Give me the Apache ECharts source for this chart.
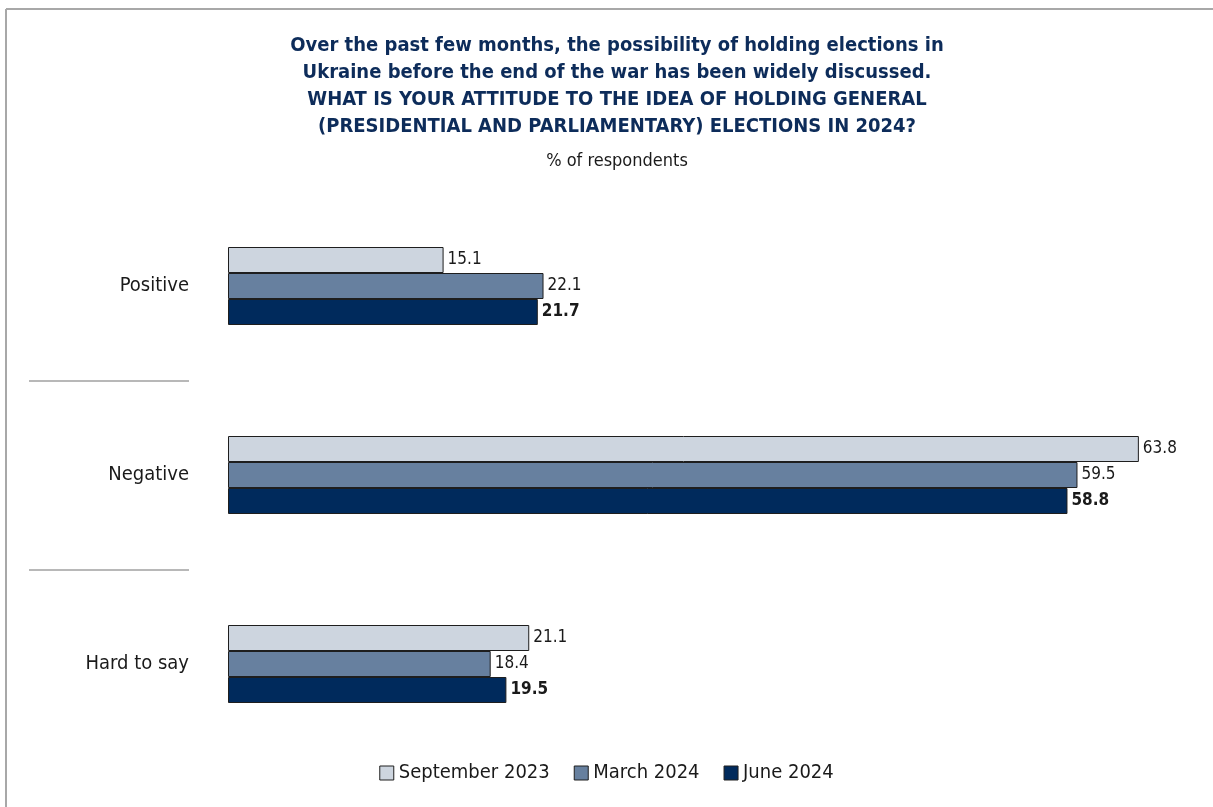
<!DOCTYPE html>
<html>
<head>
<meta charset="utf-8">
<script src="https://cdn.jsdelivr.net/npm/echarts@6/dist/echarts.min.js"></script>
<style>
  html, body { margin: 0; padding: 0; background: #fff; }
  #chart { width: 1213px; height: 807px; }
</style>
</head>
<body>
<div id="chart"></div>
<script>
const categories = ['Positive', 'Negative', 'Hard to say'];
const seriesNames = ['September 2023', 'March 2024', 'June 2024'];
const sep2023 = [15.1, 63.8, 21.1];
const mar2024 = [22.1, 59.5, 18.4];
const jun2024 = [21.7, 58.8, 19.5];

const colors = ['#cdd5df', '#67809f', '#002a5c'];
const FONT = '"Liberation Sans Narrow", "DejaVu Sans Condensed", "Roboto", sans-serif';

const chart = echarts.init(document.getElementById('chart'), null, { renderer: 'canvas' });

const makeSeries = (name, data, idx) => ({
    name,
    type: 'bar',
    data,
    barWidth: 26,
    barGap: '0%',
    itemStyle: { color: colors[idx], borderColor: '#1e1e1e', borderWidth: 1 },
    label: {
        show: true,
        position: 'right',
        distance: 4,
        fontFamily: FONT,
        fontSize: 17,
        color: '#1a1a1a',
        fontWeight: idx === 2 ? 'bold' : 'normal',
        formatter: p => p.value.toFixed(1)
    },
    emphasis: { disabled: true }
});

chart.setOption({
    backgroundColor: '#fff',
    animation: false,
    title: {
        text: 'Over the past few months, the possibility of holding elections in\nUkraine before the end of the war has been widely discussed.\nWHAT IS YOUR ATTITUDE TO THE IDEA OF HOLDING GENERAL\n(PRESIDENTIAL AND PARLIAMENTARY) ELECTIONS IN 2024?',
        subtext: '% of respondents',
        left: 612,
        top: 27,
        textAlign: 'center',
        itemGap: 12,
        textStyle: {
            fontFamily: FONT,
            fontSize: 20,
            fontWeight: 'bold',
            color: '#0d2c5a',
            lineHeight: 27
        },
        subtextStyle: {
            fontFamily: FONT,
            fontSize: 18,
            color: '#1a1a1a'
        }
    },
    legend: {
        data: seriesNames,
        bottom: 19,
        left: 'center',
        itemWidth: 14,
        itemHeight: 14,
        itemGap: 24,
        icon: 'rect',
        itemStyle: { borderColor: '#1e1e1e', borderWidth: 1 },
        textStyle: { fontFamily: FONT, fontSize: 20, color: '#1a1a1a' }
    },
    grid: {
        left: 228,
        right: 57,
        top: 191.5,
        bottom: 48.5,
        containLabel: false
    },
    xAxis: {
        type: 'value',
        min: 0,
        max: 65,
        show: false
    },
    yAxis: {
        type: 'category',
        data: categories,
        inverse: true,
        axisLine: { show: false },
        axisTick: { show: false },
        axisLabel: {
            margin: 39,
            fontFamily: FONT,
            fontSize: 20,
            color: '#1a1a1a'
        }
    },
    graphic: [
        { type: 'line', shape: { x1: 6, y1: 9, x2: 1213, y2: 9 }, style: { stroke: '#a8a8a8', lineWidth: 2 } },
        { type: 'line', shape: { x1: 6, y1: 9, x2: 6, y2: 807 }, style: { stroke: '#a8a8a8', lineWidth: 2 } },
        { type: 'line', shape: { x1: 29, y1: 381, x2: 189, y2: 381 }, style: { stroke: '#b8b8b8', lineWidth: 2 } },
        { type: 'line', shape: { x1: 29, y1: 570, x2: 189, y2: 570 }, style: { stroke: '#b8b8b8', lineWidth: 2 } }
    ],
    series: [
        makeSeries(seriesNames[0], sep2023, 0),
        makeSeries(seriesNames[1], mar2024, 1),
        makeSeries(seriesNames[2], jun2024, 2)
    ]
});
</script>
</body>
</html>
